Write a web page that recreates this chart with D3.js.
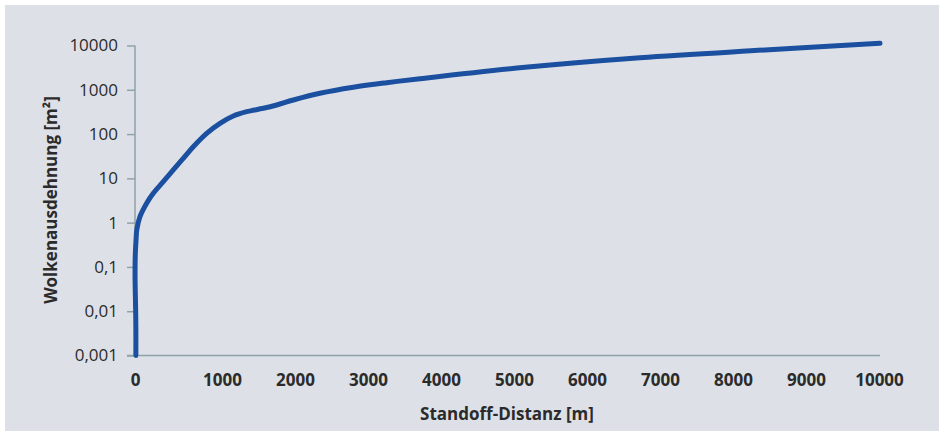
<!DOCTYPE html>
<html><head><meta charset="utf-8">
<script src="https://cdn.jsdelivr.net/npm/d3@7"></script>
<style>
html,body{margin:0;padding:0;background:#ffffff;}
svg{display:block;}
text{font-family:"Open Sans","Noto Sans",sans-serif;fill:#2b2b2b;}
</style></head>
<body>
<svg id="chart" width="944" height="436"></svg>
<script>
// Data
const distance = [10, 10, 8, 4, 1, 1, 4, 12, 20, 57, 134, 210, 325, 440, 555, 670, 824, 977, 1155, 1338, 1566, 1749, 1977, 2342, 2799, 3256, 3712, 5151, 6726, 8438, 10014];
const cloudSize = [0.001, 0.00377, 0.0091, 0.0233, 0.0507, 0.111, 0.2065, 0.406, 0.68, 1.36, 2.74, 4.6, 8.4, 15.5, 28.4, 51.9, 104, 175, 256, 320, 382, 454, 588, 833, 1138, 1445, 1778, 3220, 5300, 7910, 11200];
const xTicks = [0, 1000, 2000, 3000, 4000, 5000, 6000, 7000, 8000, 9000, 10000];
const yTicks = [0.001, 0.01, 0.1, 1, 10, 100, 1000, 10000];
const yTickLabels = ["0,001", "0,01", "0,1", "1", "10", "100", "1000", "10000"];
const xTitle = "Standoff-Distanz [m]";
const yTitle = "Wolkenausdehnung [m²]";

const svg = d3.select("#chart");
svg.append("rect").attr("x", 5).attr("y", 5).attr("width", 934).attr("height", 426).attr("fill", "#dde1e7");

const x = d3.scaleLinear().domain([0, 1000, 10000]).range([135, 222, 879]);
const y = d3.scaleLog().domain([0.001, 10000]).range([355.5, 45.5]);

const axisColor = "#8fa2a8";

// Y axis
const yAxis = d3.axisLeft(y).tickValues(yTicks).tickSize(8).tickPadding(9)
  .tickFormat((d, i) => yTickLabels[i]);
const gy = svg.append("g").attr("transform", "translate(135,0)").call(yAxis);
gy.select(".domain").remove();
gy.append("line").attr("x1", 0).attr("x2", 0).attr("y1", 45.5).attr("y2", 355.5).attr("stroke", axisColor).attr("stroke-width", 1.5);
gy.selectAll(".tick line").attr("stroke", axisColor).attr("stroke-width", 1.5);
gy.selectAll(".tick text").style("font-size", "17px").style("font-family", "'Open Sans','Noto Sans',sans-serif").attr("fill", "#2b2b2b");

// X axis
const xAxis = d3.axisBottom(x).tickValues(xTicks).tickSize(0).tickPadding(18).tickFormat(d3.format("d"));
const gx = svg.append("g").attr("transform", "translate(0,355.5)").call(xAxis);
gx.select(".domain").remove();
gx.append("line").attr("x1", 127).attr("x2", 880).attr("y1", 0).attr("y2", 0).attr("stroke", axisColor).attr("stroke-width", 1.5);
gx.selectAll(".tick text").style("font-size", "17px").style("font-weight", "bold").style("font-family", "'Open Sans','Noto Sans',sans-serif").attr("fill", "#2b2b2b");

// Axis titles
svg.append("text").attr("x", 507).attr("y", 420).attr("text-anchor", "middle")
  .style("font-size", "17px").style("font-weight", "bold").text(xTitle);
svg.append("text").attr("transform", "translate(57,200) rotate(-90)").attr("text-anchor", "middle")
  .style("font-size", "17px").style("font-weight", "bold").text(yTitle);

// Curve
const pts = distance.map((d, i) => [d, cloudSize[i]]);
const line = d3.line().x(d => x(d[0])).y(d => y(d[1])).curve(d3.curveCatmullRom.alpha(0.5));
svg.append("path").datum(pts).attr("d", line).attr("fill", "none")
  .attr("stroke", "#1b4f9f").attr("stroke-width", 5).attr("stroke-linecap", "round").attr("stroke-linejoin", "round");
</script>
</body></html>
